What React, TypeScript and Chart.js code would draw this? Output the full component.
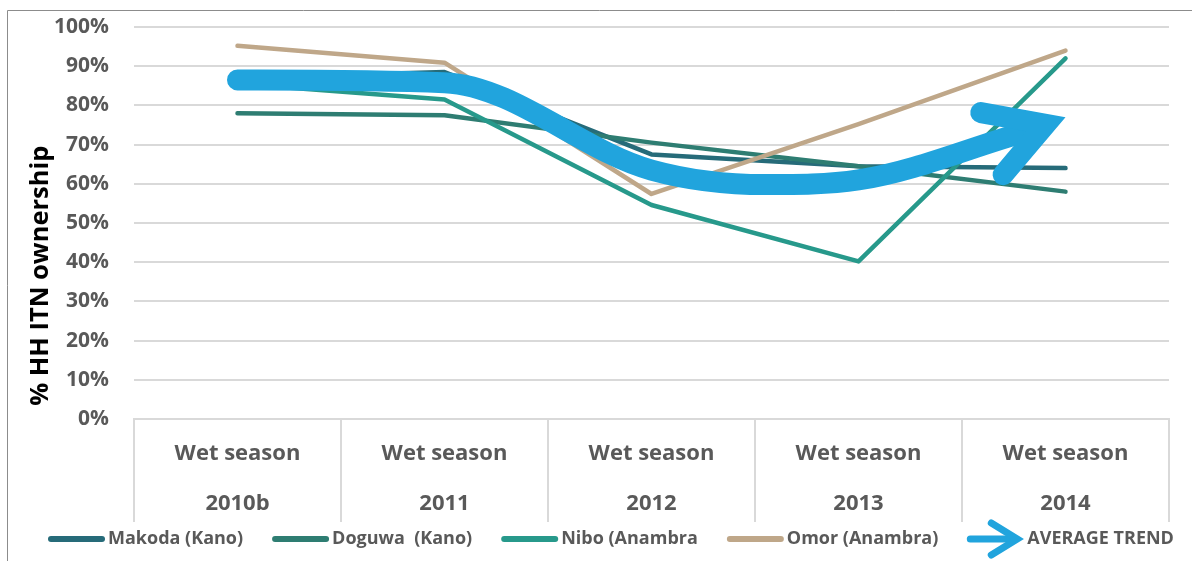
import React, { useEffect, useRef } from "react";
import { Chart, registerables } from "chart.js";

Chart.register(...registerables);

// ---- data ----
const seasonLabel = "Wet season";
const years = ["2010b", "2011", "2012", "2013", "2014"];
const seriesNames = ["Makoda (Kano)", "Doguwa  (Kano)", "Nibo (Anambra", "Omor (Anambra)"];
const makoda = [87, 88.5, 67.5, 64.5, 64];
const doguwa = [78, 77.5, 70.5, 64.5, 58];
const nibo = [85.5, 81.5, 54.6, 40.2, 92];
const omor = [95.2, 90.9, 57.4, 75.2, 94];
const trendLabel = "AVERAGE TREND";
const trendX = [0, 1, 2, 2.55, 3, 3.8];
const trendY = [86.5, 85.8, 63.5, 59.8, 61, 73.2];
const trendTipX = 4;
const trendTipY = 77;
const yTickValues = [0, 10, 20, 30, 40, 50, 60, 70, 80, 90, 100];
const yTitle = "  % HH ITN ownership";

// ---- styles ----
const FONT = '"Open Sans", sans-serif';
const TEXT_GRAY = "#595959";
const GRID = "#d9d9d9";
const colors = ["#266B79", "#2E7D72", "#27998B", "#BFA789"];
const TREND_COLOR = "#21A4DD";

const framePlugin = {
  id: "frame",
  beforeDraw(chart: any) {
    const ctx = chart.ctx;
    ctx.save();
    ctx.strokeStyle = "#8c8c8c";
    ctx.lineWidth = 1;
    ctx.beginPath();
    ctx.moveTo(7.5, chart.height);
    ctx.lineTo(7.5, 10.5);
    ctx.lineTo(chart.width, 10.5);
    ctx.stroke();
    ctx.restore();
  },
};

const arrowHeadPlugin = {
  id: "arrowHead",
  afterDatasetsDraw(chart: any) {
    const xs = chart.scales.xTrend;
    const ys = chart.scales.y;
    const n = trendX.length;
    const bx = xs.getPixelForValue(trendX[n - 1]);
    const by = ys.getPixelForValue(trendY[n - 1]);
    const tx = xs.getPixelForValue(trendTipX);
    const ty = ys.getPixelForValue(trendTipY);
    const ang = Math.atan2(ty - by, tx - bx);
    const w = 21;
    const half = (30 * Math.PI) / 180;
    const L = 66;
    const back = w / 2 / Math.sin(half);
    const vx = tx - Math.cos(ang) * back;
    const vy = ty - Math.sin(ang) * back;
    const a1 = ang + Math.PI - half;
    const a2 = ang + Math.PI + half;
    const ctx = chart.ctx;
    ctx.save();
    ctx.strokeStyle = TREND_COLOR;
    ctx.lineWidth = w;
    ctx.lineCap = "round";
    ctx.lineJoin = "miter";
    ctx.miterLimit = 10;
    ctx.beginPath();
    ctx.moveTo(vx + Math.cos(a1) * L, vy + Math.sin(a1) * L);
    ctx.lineTo(vx, vy);
    ctx.lineTo(vx + Math.cos(a2) * L, vy + Math.sin(a2) * L);
    ctx.stroke();
    ctx.restore();
  },
};

const legendPlugin = {
  id: "customLegend",
  afterDraw(chart: any) {
    const ctx = chart.ctx;
    ctx.save();
    ctx.font = `bold 18px ${FONT}`;
    ctx.textBaseline = "middle";
    ctx.textAlign = "left";
    const y = 539;
    let x = 48;
    chart.data.datasets.forEach((ds: any) => {
      if (ds.isTrend) {
        ctx.strokeStyle = ds.borderColor;
        ctx.lineWidth = 7;
        ctx.lineCap = "round";
        ctx.lineJoin = "miter";
        ctx.beginPath();
        ctx.moveTo(x + 3, y);
        ctx.lineTo(x + 46, y);
        ctx.stroke();
        ctx.beginPath();
        ctx.moveTo(x + 24, y - 16);
        ctx.lineTo(x + 50, y);
        ctx.lineTo(x + 24, y + 16);
        ctx.stroke();
        x += 60;
      } else {
        ctx.strokeStyle = ds.borderColor;
        ctx.lineWidth = 6;
        ctx.lineCap = "round";
        ctx.beginPath();
        ctx.moveTo(x + 3, y);
        ctx.lineTo(x + 54, y);
        ctx.stroke();
        x += 60;
      }
      ctx.fillStyle = TEXT_GRAY;
      ctx.fillText(ds.label, x, y);
      x += ctx.measureText(ds.label).width + 29;
    });
    ctx.restore();
  },
};

export default function App() {
  const ref = useRef<HTMLCanvasElement | null>(null);
  useEffect(() => {
    if (!ref.current) return;
    const lineSeries = [makoda, doguwa, nibo, omor];
    const datasets: any[] = lineSeries.map((d, i) => ({
      label: seriesNames[i],
      data: d,
      borderColor: colors[i],
      backgroundColor: colors[i],
      borderWidth: 4.5,
      pointRadius: 0,
      tension: 0,
      borderCapStyle: "round",
      borderJoinStyle: "round",
      order: 5 - i,
    }));
    datasets.push({
      label: trendLabel,
      isTrend: true,
      data: trendX.map((x, i) => ({ x, y: trendY[i] })),
      xAxisID: "xTrend",
      borderColor: TREND_COLOR,
      backgroundColor: TREND_COLOR,
      borderWidth: 21,
      pointRadius: 0,
      cubicInterpolationMode: "monotone",
      borderCapStyle: "round",
      order: 0,
    });
    const chart = new Chart(ref.current, {
      type: "line",
      data: {
        labels: years.map((yr) => [seasonLabel, yr]),
        datasets,
      },
      options: {
        animation: false,
        responsive: false,
        maintainAspectRatio: false,
        layout: { padding: { top: 27, right: 23, bottom: 39, left: 0 } },
        plugins: { legend: { display: false }, tooltip: { enabled: false } },
        scales: {
          x: {
            type: "category",
            offset: true,
            grid: {
              offset: true,
              drawOnChartArea: false,
              drawTicks: true,
              tickLength: 103,
              color: GRID,
              lineWidth: 2,
            },
            border: { display: true, color: GRID, width: 2 },
            ticks: {
              color: TEXT_GRAY,
              font: { family: FONT, size: 22, weight: "bold", lineHeight: 50 / 22 },
              padding: -93,
              maxRotation: 0,
              autoSkip: false,
            },
            afterFit: (s: any) => {
              s.height = 103;
            },
          },
          xTrend: {
            type: "linear",
            display: false,
            min: -0.5,
            max: 4.5,
          },
          y: {
            min: 0,
            max: 100,
            afterBuildTicks: (s: any) => {
              s.ticks = yTickValues.map((v) => ({ value: v }));
            },
            ticks: {
              color: TEXT_GRAY,
              font: { family: FONT, size: 21, weight: "bold" },
              padding: 0,
              callback: (v: any) => `${v}%`,
            },
            grid: {
              color: GRID,
              lineWidth: 2,
              drawTicks: true,
              tickLength: 25,
              tickColor: "rgba(0,0,0,0)",
            },
            border: { display: false },
            title: {
              display: true,
              text: yTitle,
              color: "#000000",
              align: "start",
              font: { family: FONT, size: 25.5, weight: "bold", lineHeight: 1.2 },
              padding: { top: 25, bottom: 0 },
            },
            afterFit: (s: any) => {
              s.width = 134;
            },
          },
        },
      },
      plugins: [framePlugin, arrowHeadPlugin, legendPlugin],
    } as any);
    return () => chart.destroy();
  }, []);
  return (
    <div style={{ position: "absolute", left: 0, top: 0, width: 1192, height: 561, background: "#fff" }}>
      <canvas ref={ref} width={1192} height={561} />
    </div>
  );
}
